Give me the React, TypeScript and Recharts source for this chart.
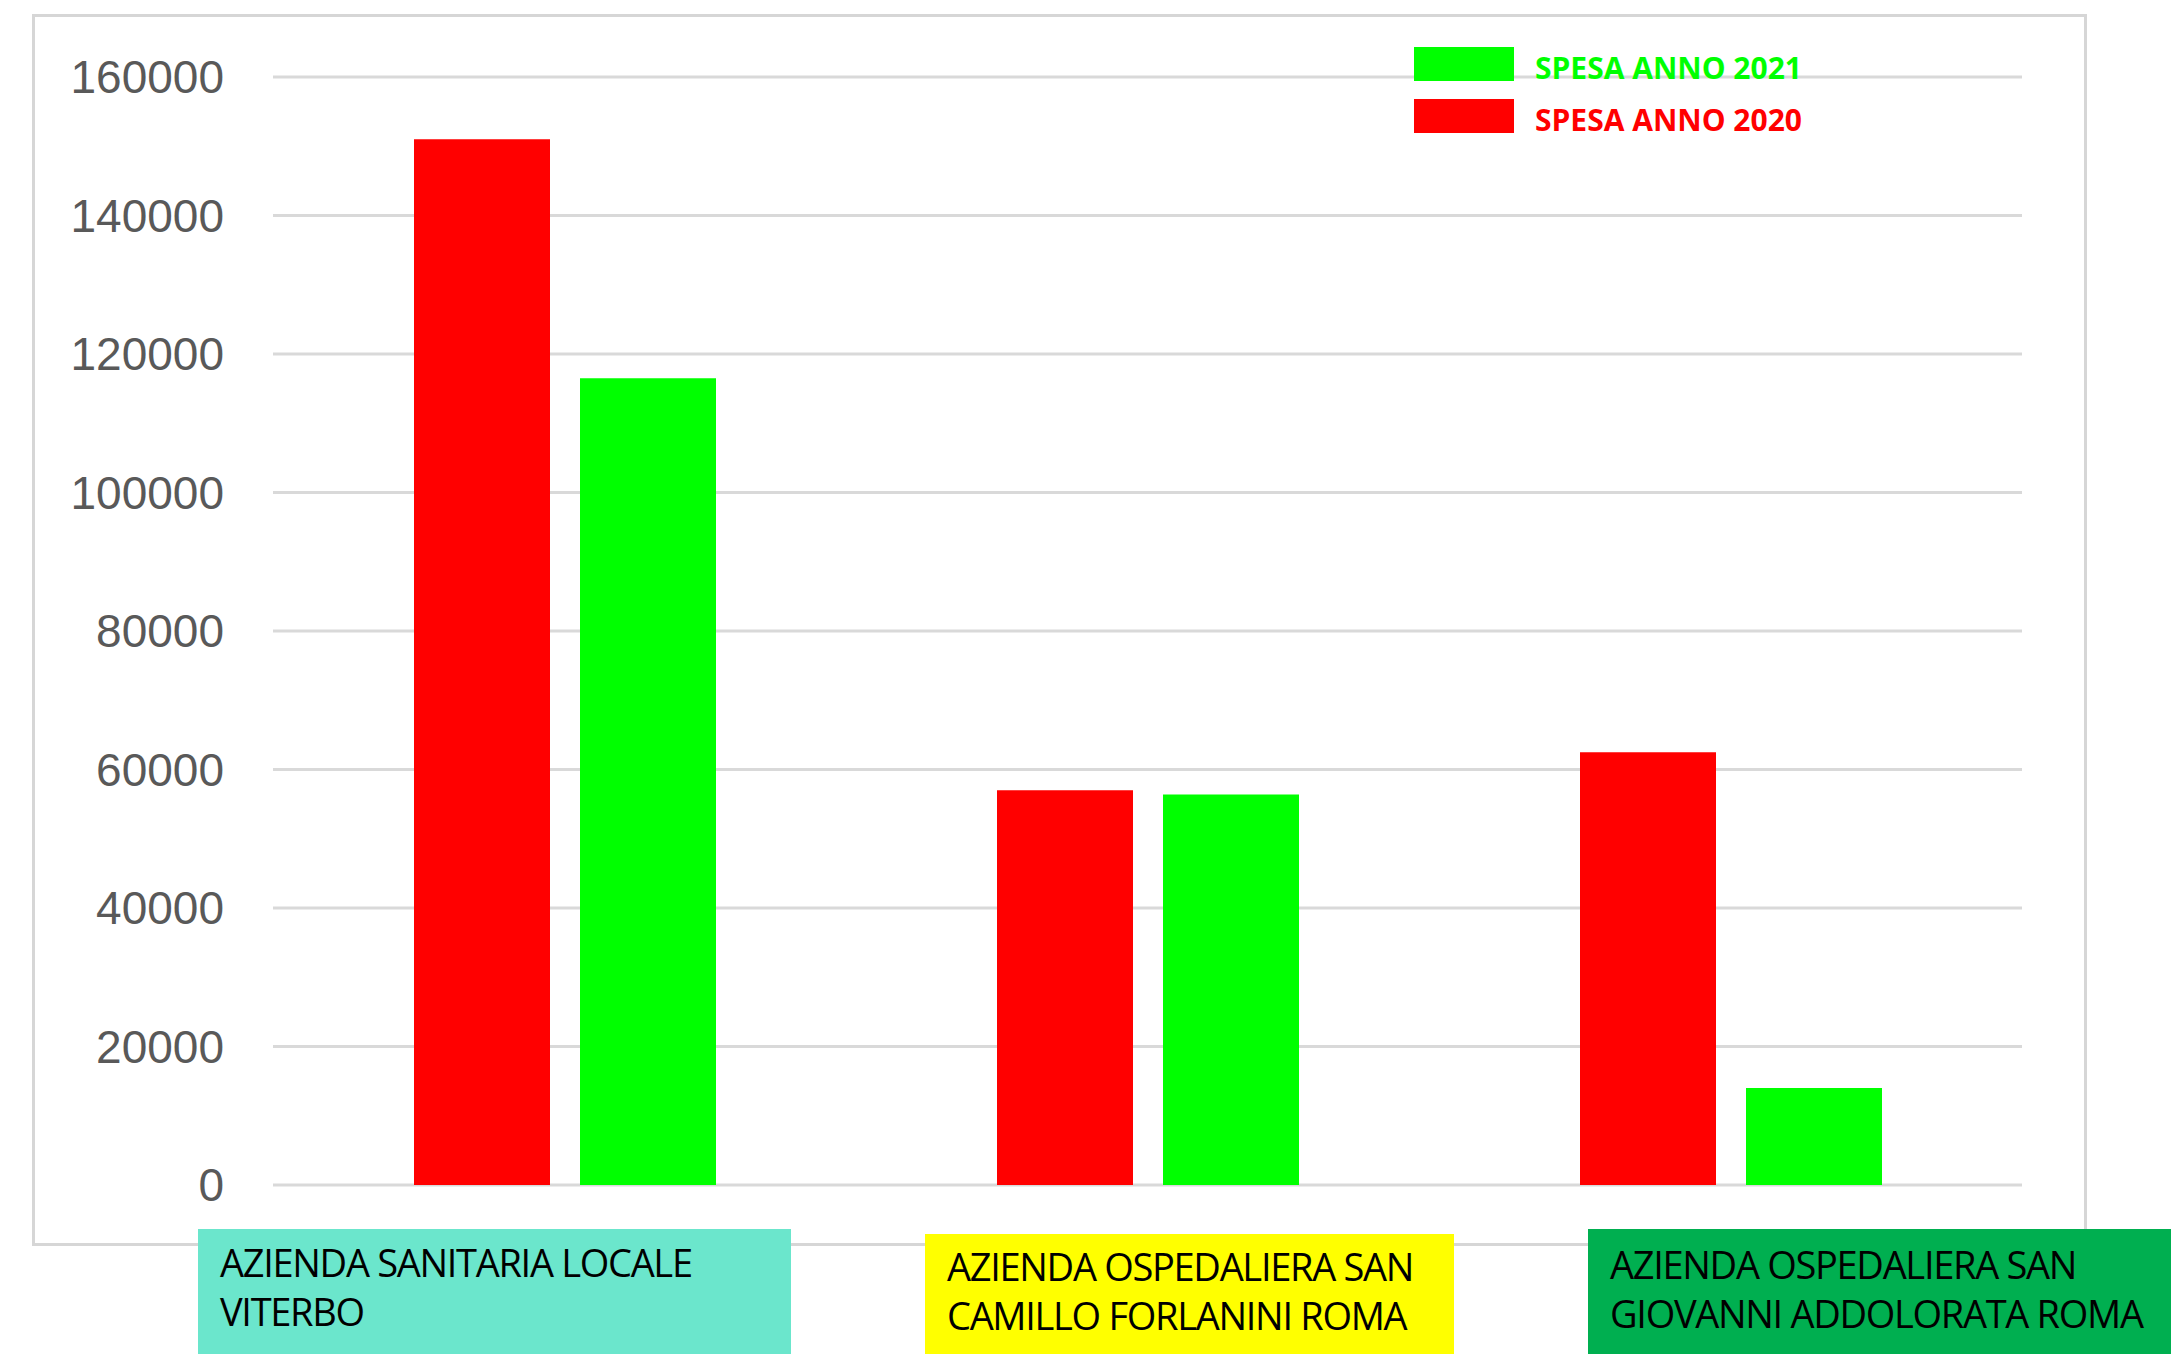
import { BarChart, Bar, XAxis, YAxis, CartesianGrid, Legend } from "recharts";

const categories = [
  "AZIENDA SANITARIA LOCALE\nVITERBO",
  "AZIENDA OSPEDALIERA SAN\nCAMILLO FORLANINI ROMA",
  "AZIENDA OSPEDALIERA SAN\nGIOVANNI ADDOLORATA ROMA",
];
const spesa2020 = [151000, 57000, 62500];
const spesa2021 = [116500, 56400, 14000];
const yTicks = [0, 20000, 40000, 60000, 80000, 100000, 120000, 140000, 160000];
const labelColors = ["#6BE6CC", "#FFFF00", "#00AF50"];

const data = categories.map((name, i) => ({ name, s2020: spesa2020[i], s2021: spesa2021[i] }));

// where the coloured category boxes sit on the page
const BOX_POS = [
  { left: 198, top: 1229, width: 593, padTop: 9 },
  { left: 925, top: 1234, width: 529, padTop: 8 },
  { left: 1588, top: 1229, width: 583, padTop: 11 },
];

function LegendBox({ payload }: { payload?: any[] }) {
  const items = [...(payload ?? [])].reverse();
  return (
    <div>
      {items.map((it) => (
        <div key={it.value} style={{ display: "flex", alignItems: "center", height: 34, marginBottom: 18 }}>
          <div style={{ width: 100, height: 34, background: it.color }} />
          <span style={{ marginLeft: 21, marginTop: 6, color: it.color, font: "700 30px 'Open Sans'", whiteSpace: "nowrap" }}>
            {it.value}
          </span>
        </div>
      ))}
    </div>
  );
}

export default function App() {
  return (
    <div style={{ position: "absolute", left: 0, top: 0, width: 2171, height: 1354, overflow: "hidden", background: "#fff" }}>
      <div style={{ position: "absolute", left: 32, top: 14, width: 2055, height: 1232, border: "3px solid #d6d6d6", boxSizing: "border-box" }} />
      <div style={{ position: "absolute", left: 32, top: 14 }}>
        <BarChart width={2055} height={1232} data={data} margin={{ top: 63, right: 65, bottom: 61, left: 0 }} barGap={30} barSize={136}>
          <CartesianGrid vertical={false} stroke="#d9d9d9" strokeWidth={3} />
          <XAxis dataKey="name" hide />
          <YAxis
            domain={[0, 160000]}
            ticks={yTicks}
            width={241}
            tickLine={false}
            axisLine={false}
            tickMargin={43}
            tick={{ fontSize: 46, fill: "#595959", fontFamily: "Liberation Sans" }}
          />
          <Legend
            layout="vertical"
            align="center"
            verticalAlign="middle"
            content={(props: any) => <LegendBox payload={props.payload} />}
            wrapperStyle={{ left: 1382, top: 33, width: 460 }}
          />
          <Bar dataKey="s2020" name="SPESA ANNO 2020" fill="#FF0000" isAnimationActive={false} />
          <Bar dataKey="s2021" name="SPESA ANNO 2021" fill="#00FF00" isAnimationActive={false} />
        </BarChart>
      </div>
      {categories.map((c, i) => (
        <div
          key={c}
          style={{
            position: "absolute",
            left: BOX_POS[i].left,
            top: BOX_POS[i].top,
            width: BOX_POS[i].width,
            height: 1354 - BOX_POS[i].top,
            background: labelColors[i],
            boxSizing: "border-box",
            padding: `${BOX_POS[i].padTop}px 0 0 22px`,
            font: "400 38px 'Open Sans'",
            letterSpacing: -1.3,
            lineHeight: "49px",
            color: "#000",
            whiteSpace: "pre-line",
          }}
        >
          {c}
        </div>
      ))}
    </div>
  );
}
